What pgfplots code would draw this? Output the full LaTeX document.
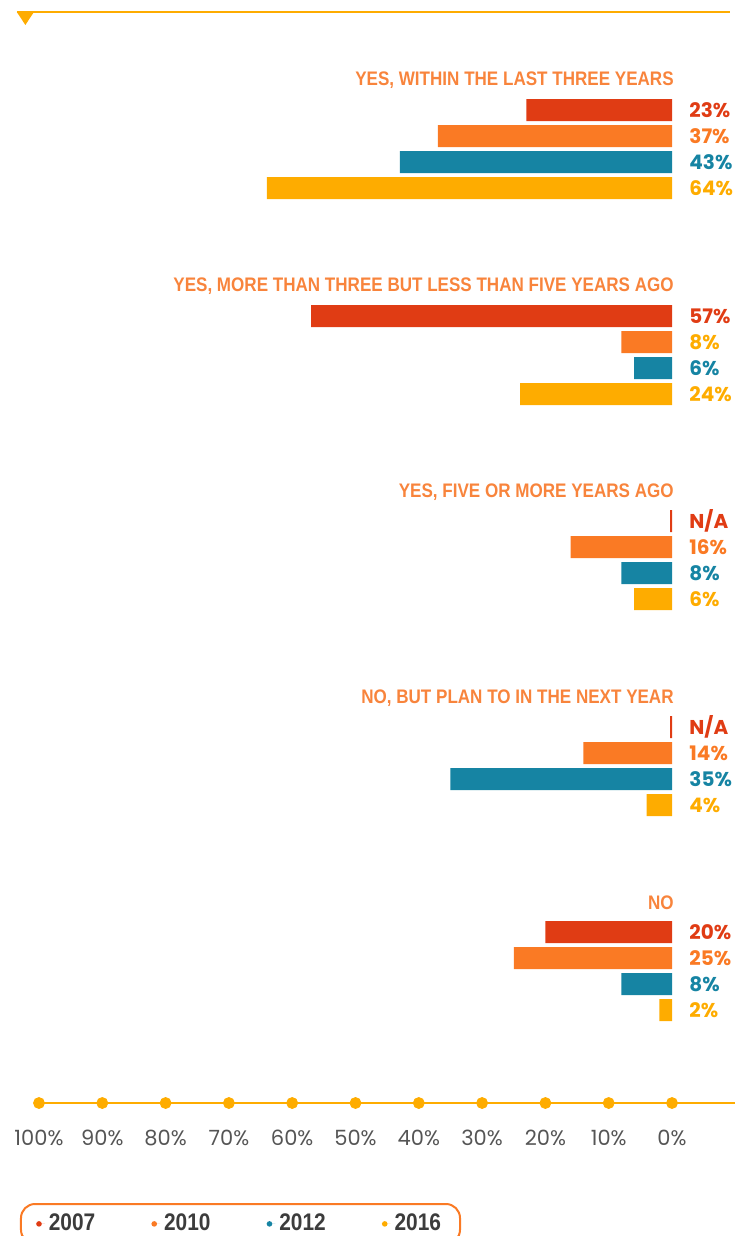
\documentclass[border=0pt]{standalone}
\usepackage{pgfplots}
\pgfplotsset{compat=1.18}
\usepackage{fontspec}
\setmainfont{Poppins}
\newfontfamily\condfont{Liberation Sans}[FakeStretch=0.87]
\definecolor{c2007}{HTML}{E03C14}
\definecolor{c2010}{HTML}{FA7A24}
\definecolor{c2012}{HTML}{1684A3}
\definecolor{c2016}{HTML}{FEAC00}
\definecolor{titleorange}{HTML}{F8843C}
\definecolor{tickgray}{HTML}{555555}
\definecolor{legendgray}{HTML}{3C3C3C}

% 1 px of the reference = 0.5pt
\begin{document}
\begin{tikzpicture}
\begin{axis}[
  width=367.5pt, height=618pt, scale only axis,
  hide axis,
  x dir=reverse, y dir=reverse,
  xmin=-9.95, xmax=106.16,
  ymin=0, ymax=1236,
  clip=false,
  xbar, bar shift=0pt, bar width=22,
  legend columns=4,
  legend style={at={(axis cs:103.0,1203)}, anchor=north west,
    draw=c2010, line width=1pt, rounded corners=7pt,
    font=\condfont\bfseries\fontsize{12}{14}\selectfont, text=legendgray,
    inner xsep=7.5pt, inner ysep=3pt,
    /tikz/every even column/.append style={column sep=26pt}},
]
% bars: (value, row position)
\addplot[draw=none, fill=c2007, legend image code/.code={\path (0pt,0pt) -- (4.4pt,0pt);\fill[c2007] (1.5pt,0pt) circle (1.4pt);}]
  coordinates {(23,110) (57,316) (0.3,521) (0.3,727) (20,932)};
\addplot[draw=none, fill=c2010, legend image code/.code={\path (0pt,0pt) -- (4.4pt,0pt);\fill[c2010] (1.5pt,0pt) circle (1.4pt);}]
  coordinates {(37,136) (8,342) (16,547) (14,753) (25,958)};
\addplot[draw=none, fill=c2012, legend image code/.code={\path (0pt,0pt) -- (4.4pt,0pt);\fill[c2012] (1.5pt,0pt) circle (1.4pt);}]
  coordinates {(43,162) (6,368) (8,573) (35,779) (8,984)};
\addplot[draw=none, fill=c2016, legend image code/.code={\path (0pt,0pt) -- (4.4pt,0pt);\fill[c2016] (1.5pt,0pt) circle (1.4pt);}]
  coordinates {(64,188) (24,394) (6,599) (4,805) (2,1010)};
\legend{2007,2010,2012,2016}

% scale line with dots
\draw[c2016, line width=1.3pt] (axis cs:100,1103) -- (axis cs:-9.95,1103);
\addplot[sharp plot, forget plot, draw=none, mark=*, mark size=2.75pt,
  mark options={fill=c2016, draw=c2016},
  point meta=x,
  nodes near coords={\pgfmathprintnumber{\pgfplotspointmeta}\%},
  nodes near coords style={anchor=center, yshift=-17.5pt, text=tickgray,
    font=\fontsize{10.5}{12}\selectfont,
    /pgf/number format/assume math mode=true}]
  coordinates {(100,1103) (90,1103) (80,1103) (70,1103) (60,1103) (50,1103)
    (40,1103) (30,1103) (20,1103) (10,1103) (0,1103)};

% top rule
\draw[c2016, line width=1pt] (axis cs:103.5,12) -- (axis cs:-9.16,12);
\fill[c2016] (axis cs:103.5,12) -- (axis cs:100.8,12) -- (axis cs:102.15,25) -- cycle;

% group titles
\tikzset{grp/.style={anchor=east, inner sep=0pt, text=titleorange,
  font=\condfont\bfseries\fontsize{9.8}{11}\selectfont}}
\node[grp] at (axis cs:-0.32,80) {YES, WITHIN THE LAST THREE YEARS};
\node[grp] at (axis cs:-0.32,286) {YES, MORE THAN THREE BUT LESS THAN FIVE YEARS AGO};
\node[grp] at (axis cs:-0.32,492) {YES, FIVE OR MORE YEARS AGO};
\node[grp] at (axis cs:-0.32,698) {NO, BUT PLAN TO IN THE NEXT YEAR};
\node[grp] at (axis cs:-0.32,903) {NO};

% value labels
\tikzset{val/.style={anchor=west, inner sep=0pt,
  font=\bfseries\fontsize{10}{12}\selectfont}}
\node[val, text=c2007] at (axis cs:-2.69,110) {23\%};
\node[val, text=c2010] at (axis cs:-2.69,136) {37\%};
\node[val, text=c2012] at (axis cs:-2.69,162) {43\%};
\node[val, text=c2016] at (axis cs:-2.69,188) {64\%};
\node[val, text=c2007] at (axis cs:-2.69,316) {57\%};
\node[val, text=c2016] at (axis cs:-2.69,342) {8\%};
\node[val, text=c2012] at (axis cs:-2.69,368) {6\%};
\node[val, text=c2016] at (axis cs:-2.69,394) {24\%};
\node[val, text=c2007] at (axis cs:-2.69,521) {N/A};
\node[val, text=c2010] at (axis cs:-2.69,547) {16\%};
\node[val, text=c2012] at (axis cs:-2.69,573) {8\%};
\node[val, text=c2016] at (axis cs:-2.69,599) {6\%};
\node[val, text=c2007] at (axis cs:-2.69,727) {N/A};
\node[val, text=c2010] at (axis cs:-2.69,753) {14\%};
\node[val, text=c2012] at (axis cs:-2.69,779) {35\%};
\node[val, text=c2016] at (axis cs:-2.69,805) {4\%};
\node[val, text=c2007] at (axis cs:-2.69,932) {20\%};
\node[val, text=c2010] at (axis cs:-2.69,958) {25\%};
\node[val, text=c2012] at (axis cs:-2.69,984) {8\%};
\node[val, text=c2016] at (axis cs:-2.69,1010) {2\%};
\end{axis}
\pgfresetboundingbox
\useasboundingbox (current axis.south west) rectangle (current axis.north east);
\end{tikzpicture}
\end{document}
